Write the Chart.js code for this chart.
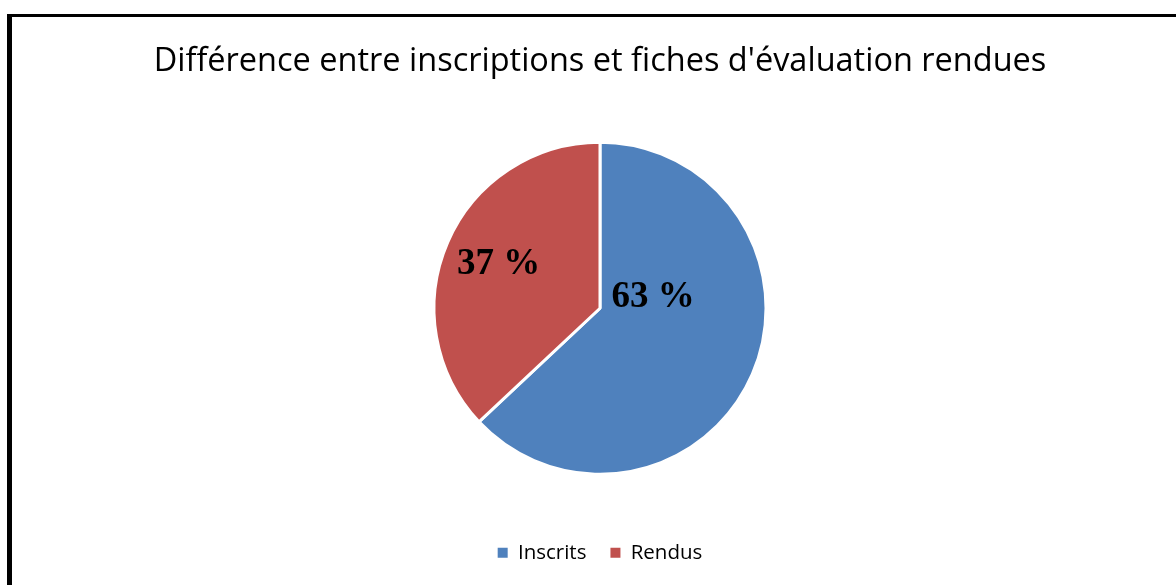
<!DOCTYPE html>
<html>
<head>
<meta charset="utf-8">
<script src="https://cdn.jsdelivr.net/npm/chart.js@4/dist/chart.umd.min.js"></script>
<style>
  html, body { margin: 0; padding: 0; background: #fff; }
  #wrap { position: relative; width: 1176px; height: 585px; overflow: hidden; }
  #frame {
    position: absolute; left: 7px; top: 14px; width: 1200px; height: 600px;
    border-left: 5px solid #000; border-top: 3px solid #000;
  }
  canvas { position: absolute; left: 0; top: 0; }
</style>
</head>
<body>
<div id="wrap">
  <div id="frame"></div>
  <canvas id="chart" width="1176" height="585"></canvas>
</div>
<script>
const titleText = "Différence entre inscriptions et fiches d'évaluation rendues"
const categories = ["Inscrits", "Rendus"]
const percentValues = [63, 37]
const sliceColors = ["#4F81BD", "#C0504D"]

// where each percentage sits, in units of the pie radius (hand placed in the original)
const labelSpots = [[0.32, -0.01], [-0.61, -0.205]]

const percentLabels = {
  id: "percentLabels",
  afterDatasetsDraw(chart) {
    const ctx = chart.ctx
    const arcs = chart.getDatasetMeta(0).data
    ctx.save()
    ctx.font = "bold 37px 'Liberation Serif', 'Times New Roman', serif"
    ctx.fillStyle = "#000"
    ctx.textAlign = "center"
    ctx.textBaseline = "alphabetic"
    arcs.forEach((arc, i) => {
      const r = arc.outerRadius
      ctx.fillText(percentValues[i] + " %", arc.x + labelSpots[i][0] * r, arc.y + labelSpots[i][1] * r)
    })
    ctx.restore()
  }
}

new Chart(document.getElementById("chart"), {
  type: "pie",
  data: {
    labels: categories,
    datasets: [{
      data: percentValues,
      backgroundColor: sliceColors,
      borderColor: "#fff",
      borderWidth: 3,
      radius: 166
    }]
  },
  options: {
    responsive: false,
    animation: false,
    layout: { padding: { left: 24, top: 20, bottom: 12 } },
    plugins: {
      title: {
        display: true,
        text: titleText,
        color: "#000",
        font: { family: "'Open Sans', sans-serif", size: 32.5, weight: "normal" },
        padding: { top: 22.5, bottom: 16.5 }
      },
      legend: {
        position: "bottom",
        labels: {
          color: "#000",
          font: { family: "'Open Sans', sans-serif", size: 20.5 },
          boxWidth: 10,
          boxHeight: 10,
          padding: 24,
          generateLabels: (chart) =>
            Chart.overrides.pie.plugins.legend.labels.generateLabels(chart)
              .map(l => ({ ...l, strokeStyle: l.fillStyle, lineWidth: 0 }))
        }
      },
      tooltip: { enabled: false }
    }
  },
  plugins: [percentLabels]
})
</script>
</body>
</html>
